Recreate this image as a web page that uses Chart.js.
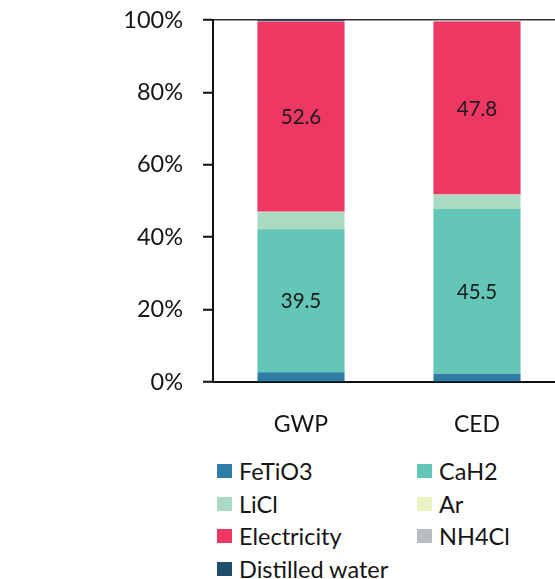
<!DOCTYPE html>
<html>
<head>
<meta charset="utf-8">
<script src="https://cdn.jsdelivr.net/npm/chart.js@4/dist/chart.umd.min.js"></script>
<style>
  html, body { margin: 0; padding: 0; background: #fff; overflow: hidden; }
  body { width: 555px; height: 579px; position: relative; }
  #wrap { position: absolute; left: 0; top: 0; width: 565px; height: 445px; }
  #legend {
    position: absolute; left: 217px; top: 455px;
    display: grid; grid-template-columns: 200px 200px; grid-auto-rows: 32.5px;
    font-family: Lato, "Open Sans", sans-serif; font-size: 23.5px; color: #151515;
  }
  .item { display: flex; align-items: center; white-space: nowrap; }
  .box { width: 15px; height: 14px; margin-right: 7px; flex: none; }
</style>
</head>
<body>
<div id="wrap"><canvas id="c"></canvas></div>
<div id="legend"></div>
<script>
// Impact categories and contribution shares (%) per input
const categories = ['GWP', 'CED'];
const feTiO3 = [2.7, 2.3];
const caH2 = [39.5, 45.5];
const liCl = [4.7, 3.9];
const ar = [0.1, 0.1];
const electricity = [52.6, 47.8];
const nh4Cl = [0.1, 0.3];
const distilledWater = [0.3, 0.1];
const yTicks = [0, 20, 40, 60, 80, 100];
const labelledSeries = ['CaH2', 'Electricity'];

const FONT = 'Lato, "Open Sans", sans-serif';

const series = [
  { label: 'FeTiO3', data: feTiO3, backgroundColor: '#2e7da6' },
  { label: 'CaH2', data: caH2, backgroundColor: '#63c6b7' },
  { label: 'LiCl', data: liCl, backgroundColor: '#a8dbc1' },
  { label: 'Ar', data: ar, backgroundColor: '#eaf3c3' },
  { label: 'Electricity', data: electricity, backgroundColor: '#ee3863' },
  { label: 'NH4Cl', data: nh4Cl, backgroundColor: '#b9bcc0' },
  { label: 'Distilled water', data: distilledWater, backgroundColor: '#1f4d6b' }
];

// Value labels centred inside the larger segments
const segmentLabels = {
  id: 'segmentLabels',
  afterDatasetsDraw(chart) {
    const ctx = chart.ctx;
    ctx.save();
    ctx.font = '20.5px ' + FONT;
    ctx.fillStyle = '#1a1a1a';
    ctx.textAlign = 'center';
    ctx.textBaseline = 'middle';
    chart.data.datasets.forEach((ds, i) => {
      if (!labelledSeries.includes(ds.label)) return;
      chart.getDatasetMeta(i).data.forEach((bar, j) => {
        const p = bar.getProps(['x', 'y', 'base'], true);
        ctx.fillText(ds.data[j].toFixed(1), p.x, (p.y + p.base) / 2 + 1);
      });
    });
    ctx.restore();
  }
};

const chart = new Chart(document.getElementById('c'), {
  type: 'bar',
  data: {
    labels: categories,
    datasets: series.map(s => Object.assign({}, s, { borderWidth: 0 }))
  },
  options: {
    responsive: true,
    maintainAspectRatio: false,
    animation: false,
    layout: { padding: { top: 20, right: 0, left: 0, bottom: 0 } },
    datasets: { bar: { categoryPercentage: 1, barPercentage: 0.495 } },
    plugins: { legend: { display: false }, tooltip: { enabled: false } },
    scales: {
      x: {
        stacked: true,
        grid: { display: false, drawTicks: false },
        border: { display: true, color: '#111', width: 2 },
        ticks: { padding: 29, color: '#151515', font: { family: FONT, size: 23 } },
        afterFit(scale) {
          scale.height = 63;
          scale.paddingLeft = 0;
          scale.paddingRight = 0;
        }
      },
      y: {
        stacked: true,
        min: 0, max: 100,
        afterBuildTicks(scale) { scale.ticks = yTicks.map(v => ({ value: v })); },
        grid: {
          drawOnChartArea: true,
          color: c => (c.tick && c.tick.value === 100) ? '#333' : 'rgba(0,0,0,0)',
          lineWidth: 1.5,
          tickLength: 10,
          tickColor: '#111',
          tickWidth: 2
        },
        border: { display: true, color: '#111', width: 2 },
        ticks: {
          padding: 20, color: '#151515', font: { family: FONT, size: 23.5 },
          callback: v => v + '%'
        },
        afterFit(scale) {
          scale.width = 213;
          scale.paddingTop = 0;
          scale.paddingBottom = 0;
        }
      }
    }
  },
  plugins: [segmentLabels]
});

// Two-column legend built from the chart's datasets
const legend = document.getElementById('legend');
chart.data.datasets.forEach(ds => {
  const item = document.createElement('div');
  item.className = 'item';
  const box = document.createElement('span');
  box.className = 'box';
  box.style.background = ds.backgroundColor;
  const txt = document.createElement('span');
  txt.textContent = ds.label;
  item.appendChild(box);
  item.appendChild(txt);
  legend.appendChild(item);
});
</script>
</body>
</html>
